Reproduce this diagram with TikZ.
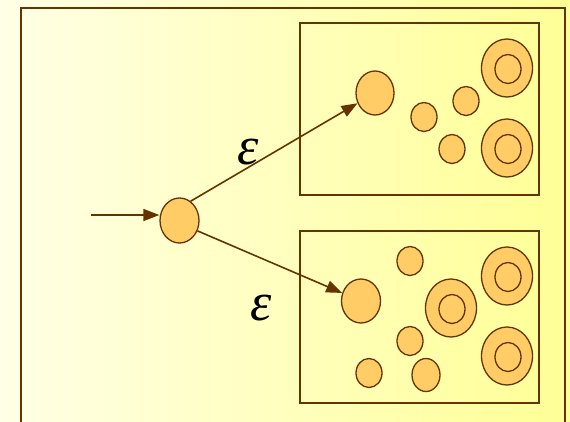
\documentclass[tikz,border=0pt]{standalone}
\usepackage{fontspec}
\newfontfamily\epsfont{Liberation Serif}
\usetikzlibrary{arrows.meta,shapes.geometric}
\definecolor{bgleft}{RGB}{255,255,230}
\definecolor{bgright}{RGB}{255,255,150}
\definecolor{brn}{RGB}{102,51,0}
\definecolor{stfill}{RGB}{255,204,102}

\begin{document}
\begin{tikzpicture}[x=1pt, y=-1pt,
  st/.style={ellipse, draw=brn, fill=stfill, line width=1.3pt, inner sep=0pt,
             minimum width=26pt, minimum height=29pt},
  big/.style={st, minimum width=38pt, minimum height=44pt},
  acc/.style={st, minimum width=51pt, minimum height=58pt},
  box/.style={draw=brn, line width=2pt},
  arr/.style={-{Triangle[length=16pt,width=12pt]}, draw=brn, line width=1.6pt},
  eps/.style={font=\epsfont\itshape\fontsize{54}{54}\selectfont, inner sep=0pt}
]
  \clip (0,0) rectangle (570,421);
  \shade[left color=bgleft, right color=bgright] (0,0) rectangle (570,421);
  \draw[brn, line width=2.5pt] (21,8) rectangle (565,440);

  % the two subset boxes
  \draw[box] (300,23) rectangle (539,195);
  \draw[box] (300,231) rectangle (539,403);

  \node[big, minimum width=39pt, minimum height=45pt] (s) at (179.5,220.5) {};
  \coordinate (in) at (91,215);

  % upper box
  \node[big] (q0) at (375,93) {};
  \node[st] (q1) at (424,117) {};
  \node[st] (q2) at (466,101) {};
  \node[st] (q3) at (452,149) {};
  \node[acc] (q4) at (507,68) {};
  \node[st] (q4i) at (508,69) {};
  \node[acc] (q5) at (507,148) {};
  \node[st] (q5i) at (508,149) {};

  % lower box
  \node[big, minimum width=39pt] (r0) at (361,301) {};
  \node[st] (r1) at (410,261) {};
  \node[acc] (r2) at (451,308) {};
  \node[st] (r2i) at (452,309) {};
  \node[acc] (r3) at (507,276) {};
  \node[st] (r3i) at (508,277) {};
  \node[st] (r4) at (410,341) {};
  \node[acc] (r5) at (507,356) {};
  \node[st] (r5i) at (508,357) {};
  \node[st] (r6) at (369,373) {};
  \node[st, minimum width=28pt, minimum height=33pt] (r7) at (426,375) {};

  \draw[arr] (in) -- (in -| s.west);
  \draw[arr] (s.60) -- (q0);
  \draw[arr] (s.-30) -- (r0);

  \node[eps] (e1) at (248,152) {ε};
  \node[eps] (e2) at (261,308) {ε};
\end{tikzpicture}
\end{document}
